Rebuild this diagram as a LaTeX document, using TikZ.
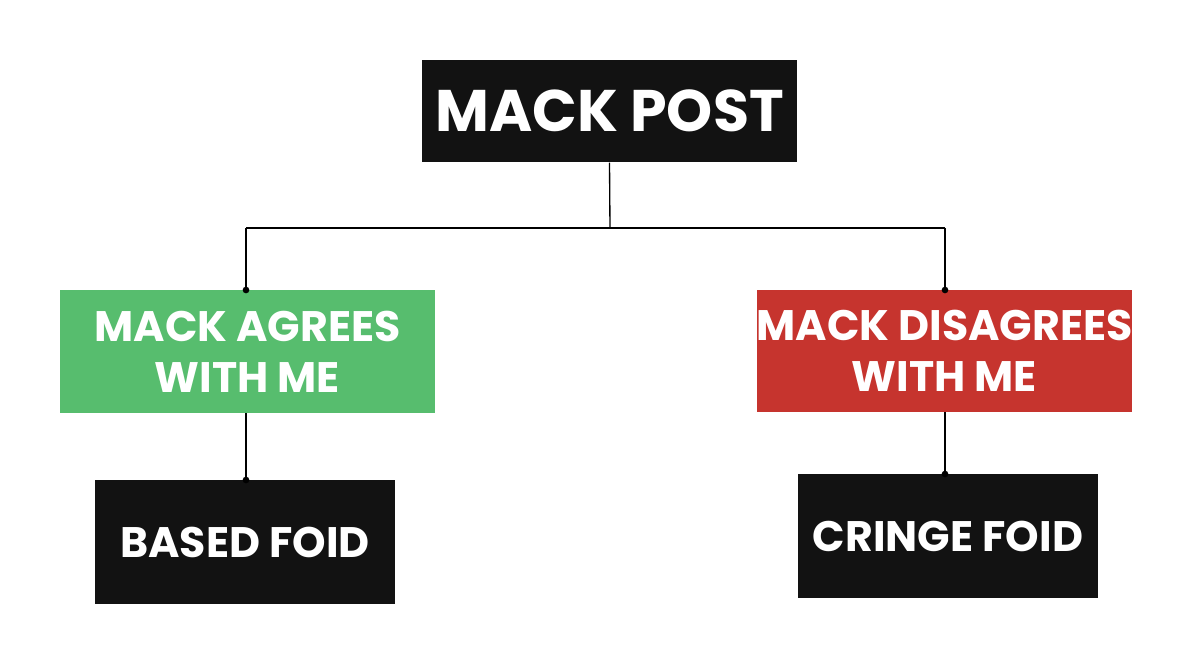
\documentclass[tikz,border=0pt]{standalone}
\usepackage{fontspec}
\setmainfont{Poppins}
\begin{document}
\begin{tikzpicture}[x=0.75pt,y=0.75pt,yscale=-1,xscale=1]
        \tikzset{box/.style={fill=black!93, text=white, inner sep=0pt, align=center, font=\bfseries},
          dot/.style={circle, fill=black, inner sep=0pt, minimum size=5pt}}
        \definecolor{agreegreen}{RGB}{87,189,110}
        \definecolor{disred}{RGB}{198,52,46}
        \useasboundingbox (0,0) rectangle (1200,663);
        
        % Boxes
        \node (post) [box, minimum width=281pt, minimum height=77pt, font=\bfseries\fontsize{44}{50}\selectfont] at (609.5,111) {MACK POST};
        \node (agree) [box, fill=agreegreen, minimum width=281pt, minimum height=92pt, font=\bfseries\fontsize{32}{38}\selectfont] at (247.5,351.5) {MACK AGREES\\WITH ME};
        \node (disagree) [box, fill=disred, minimum width=281pt, minimum height=92pt, font=\bfseries\fontsize{32}{38}\selectfont] at (944.5,351) {MACK DISAGREES\\WITH ME};
        \node (based) [box, minimum width=225pt, minimum height=93pt, font=\bfseries\fontsize{32}{38}\selectfont] at (245,542) {BASED FOID};
        \node (cringe) [box, minimum width=225pt, minimum height=93pt, font=\bfseries\fontsize{32}{38}\selectfont] at (948,536) {CRINGE FOID};
        
        % Connectors
        \coordinate (split) at (610,228);
        \draw [line width=1pt] (post.south) -- (split);
        \draw [line width=1pt] (246,228) -- (945,228);
        \draw [line width=1pt] (246,228) -- (246,290) node [dot] {};
        \draw [line width=1pt] (945,228) -- (945,290) node [dot] {};
        \draw [line width=1pt] (246,413) -- (246,480) node [dot] {};
        \draw [line width=1pt] (945,412) -- (945,474) node [dot] {};
        
\end{tikzpicture}
\end{document}
